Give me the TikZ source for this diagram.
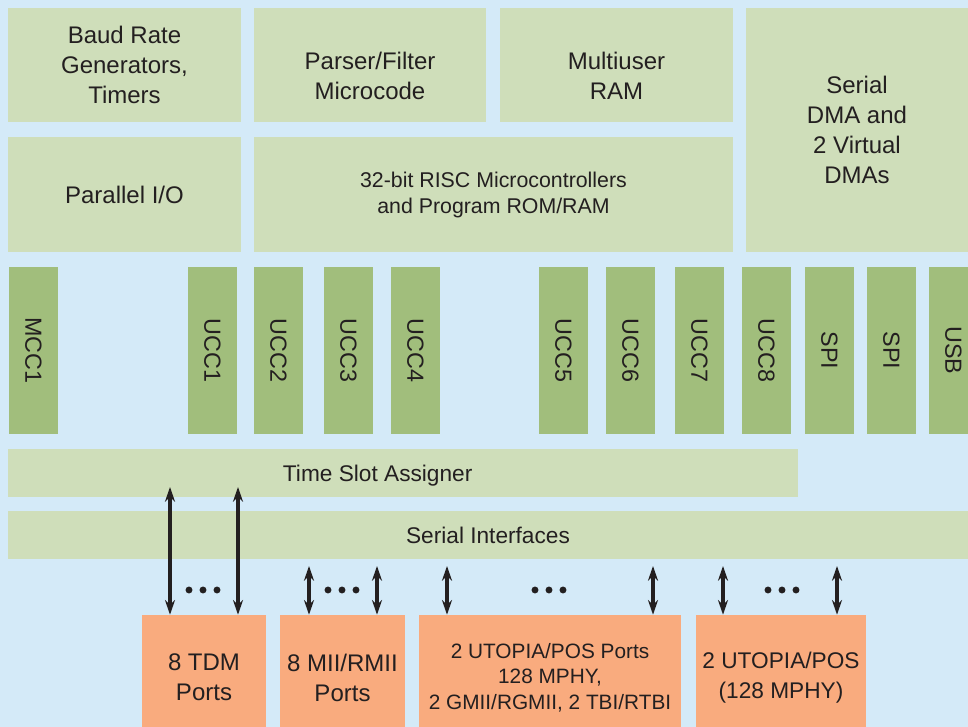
\documentclass[tikz,border=0pt]{standalone}
\usepackage{fontspec}
\setmainfont{Liberation Sans}
\usetikzlibrary{arrows.meta}

\definecolor{bgblue}{HTML}{D4EAF8}
\definecolor{paleg}{HTML}{CFDEBA}
\definecolor{stripg}{HTML}{A1BE7C}
\definecolor{portor}{HTML}{F9AB7E}
\definecolor{ink}{HTML}{231F20}

\tikzset{
  blk/.style 2 args={fill=paleg, text=ink, align=center, inner sep=0pt,
    minimum width=#1*0.75pt, minimum height=#2*0.75pt,
    font=\fontsize{18}{22.5}\selectfont},
  lbl/.style={text=ink, align=center, font=\fontsize{18}{22.5}\selectfont},
  strip/.style={fill=stripg, text=ink, rotate=-90, inner sep=0pt,
    minimum width=125.25pt, minimum height=36.75pt,
    font=\fontsize{17.5}{21}\selectfont},
  bar/.style={fill=paleg, text=ink, inner sep=0pt, minimum height=36pt,
    font=\fontsize{17}{21}\selectfont},
  port/.style={fill=portor, text=ink, align=center, inner sep=0pt,
    minimum width=#1*0.75pt, minimum height=93.75pt,
    font=\fontsize{18}{22.5}\selectfont},
  link/.style={draw=ink, line width=2.5pt,
    {Stealth[length=11pt,width=7.5pt]}-{Stealth[length=11pt,width=7.5pt]}}
}

\begin{document}
\begin{tikzpicture}[x=0.75pt,y=-0.75pt]

\useasboundingbox (0,0) rectangle (968,727);
\fill[bgblue] (0,0) rectangle (968,727);

% Upper blocks
\node[blk={233}{114}] (baud) at (124.5,65) {Baud Rate\\Generators,\\Timers};
\node[blk={232}{114}, label={[lbl, yshift=-8pt]center:{Parser/Filter\\Microcode}}] (parser) at (370,65) {};
\node[blk={233}{114}, label={[lbl, yshift=-8pt]center:{Multiuser\\RAM}}] (ram) at (616.5,65) {};
\node[blk={222}{244}] (sdma) at (857,130) {Serial\\DMA and\\2 Virtual\\DMAs};
\node[blk={233}{115}] (pio) at (124.5,194.5) {Parallel I/O};
\node[blk={479}{115}, font=\fontsize{16}{19.5}\selectfont] (risc) at (493.5,194.5)
    {32-bit RISC Microcontrollers\\and Program ROM/RAM};

% Controller strips
\foreach \nm/\cx/\txt in {mcc1/33.5/MCC1, ucc1/212.5/UCC1, ucc2/278.5/UCC2,
    ucc3/348.5/UCC3, ucc4/415.5/UCC4, ucc5/563.5/UCC5, ucc6/630.5/UCC6,
    ucc7/699.5/UCC7, ucc8/766.5/UCC8, spia/829.5/SPI, spib/891.5/SPI,
    usb/953.5/USB}
  \node[strip] (\nm) at (\cx,350.5) {\txt};

% Bars
\node[bar, minimum width=592.5pt, label={[text=ink, font=\fontsize{17}{21}\selectfont, xshift=-19pt, yshift=-2pt]center:Time Slot Assigner}] (tsa) at (403,473) {};
\node[bar, minimum width=720pt] (si) at (488,535) {Serial Interfaces};

% Ports
\node[port={124}] (tdm) at (204,677.5) {8 TDM\\Ports};
\node[port={125}] (mii) at (342.5,677.5) {8 MII/RMII\\Ports};
\node[port={262}, font=\fontsize{15.6}{19}\selectfont] (utp) at (550,677.5)
    {2 UTOPIA/POS Ports\\128 MPHY,\\2 GMII/RGMII, 2 TBI/RTBI};
\node[port={170}, font=\fontsize{17}{22.5}\selectfont] (utpb) at (781,677.5)
    {2 UTOPIA/POS\\(128 MPHY)};

% Arrows
\coordinate (a1) at (170,487);
\coordinate (a2) at (238,487);
\coordinate (b1) at (309,566);
\coordinate (b2) at (377,566);
\coordinate (c1) at (447,566);
\coordinate (c2) at (653,566);
\coordinate (d1) at (723,566);
\coordinate (d2) at (837,566);
\foreach \tp/\pt in {a1/tdm, a2/tdm, b1/mii, b2/mii, c1/utp, c2/utp, d1/utpb, d2/utpb}
  \draw[link] (\pt.north -| \tp) -- (\tp);

% Dots
\foreach \cx in {203,342,549,782}
  \foreach \d in {-14,0,14}
    \fill[ink] (\cx+\d,590) circle (2.6pt);

\end{tikzpicture}
\end{document}
